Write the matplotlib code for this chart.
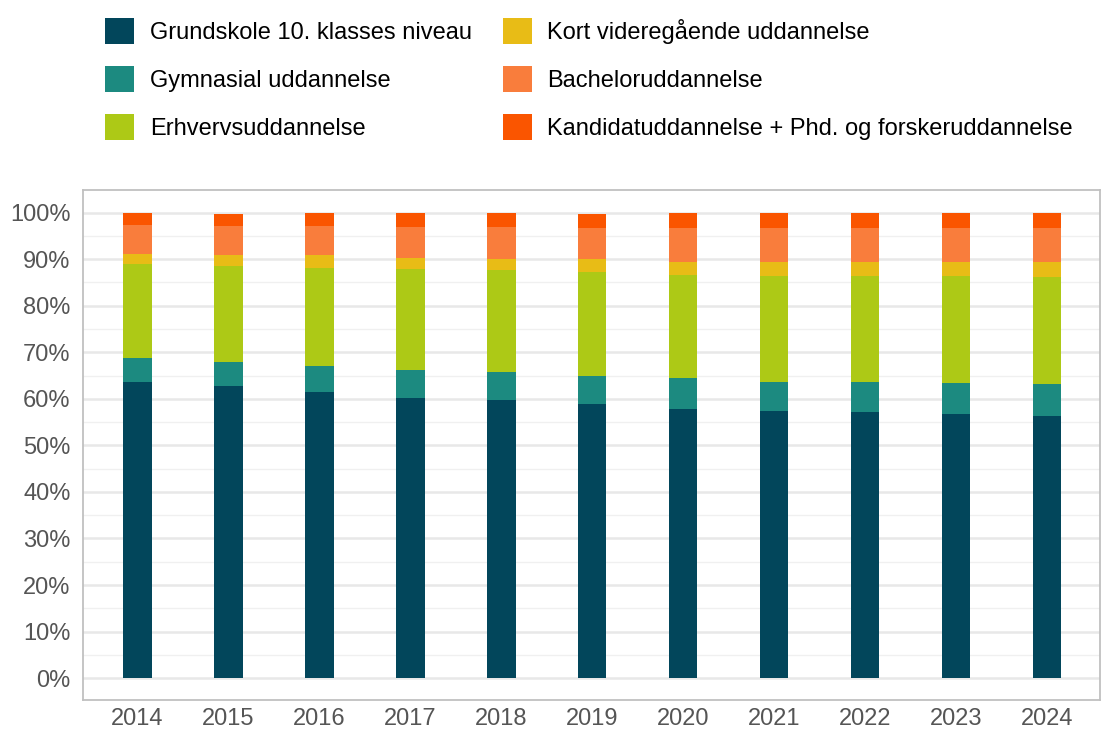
import matplotlib
matplotlib.use("Agg")
import matplotlib.pyplot as plt
from matplotlib.patches import Patch
from matplotlib.ticker import MultipleLocator, FuncFormatter
import numpy as np

plt.rcParams['font.family'] = ['Liberation Sans', 'DejaVu Sans']

years = ["2014", "2015", "2016", "2017", "2018", "2019", "2020", "2021", "2022", "2023", "2024"]
labels = [
    "Grundskole 10. klasses niveau",
    "Gymnasial uddannelse",
    "Erhvervsuddannelse",
    "Kort videregående uddannelse",
    "Bacheloruddannelse",
    "Kandidatuddannelse + Phd. og forskeruddannelse",
]
colors = ["#02465b", "#1c8a80", "#adc916", "#e8bc16", "#f97d3c", "#fa5500"]

# shares in percent
grundskole = [63.6, 62.8, 61.5, 60.1, 59.7, 58.8, 57.9, 57.3, 57.1, 56.7, 56.3]
gymnasial = [5.1, 5.2, 5.5, 6.2, 6.0, 6.2, 6.5, 6.4, 6.6, 6.8, 6.8]
erhverv = [20.3, 20.6, 21.2, 21.5, 21.9, 22.2, 22.3, 22.6, 22.6, 22.8, 23.0]
kort = [2.2, 2.4, 2.6, 2.5, 2.5, 2.8, 2.8, 3.0, 3.0, 3.0, 3.2]
bachelor = [6.2, 6.2, 6.4, 6.7, 6.9, 6.8, 7.3, 7.5, 7.5, 7.5, 7.5]
kandidat = [2.6, 2.5, 2.8, 3.0, 3.0, 2.9, 3.2, 3.2, 3.2, 3.2, 3.2]
series = [grundskole, gymnasial, erhverv, kort, bachelor, kandidat]

fig = plt.figure(figsize=(11.01, 7.33), dpi=100)
ax = fig.add_axes([0.0754, 0.045, 0.9236, 0.696])

x = np.arange(len(years))
bottom = np.zeros(len(years))
for vals, col in zip(series, colors):
    ax.bar(x, vals, width=0.31, bottom=bottom, color=col, zorder=3)
    bottom += np.array(vals)

ax.set_xlim(-0.6, 10.58)
ax.set_ylim(-4.7, 104.9)
ax.set_xticks(x)
ax.set_xticklabels(years)
ax.yaxis.set_major_locator(MultipleLocator(10))
ax.yaxis.set_minor_locator(MultipleLocator(5))
ax.yaxis.set_major_formatter(FuncFormatter(lambda v, p: f"{v:.0f}%"))
ax.grid(axis='y', which='major', color='#e8e8e8', linewidth=1.8, zorder=0)
ax.grid(axis='y', which='minor', color='#f0f0f0', linewidth=1.0, zorder=0)
ax.tick_params(axis='both', which='both', length=0, labelsize=17, labelcolor='#555555')
ax.tick_params(axis='x', pad=6)
ax.tick_params(axis='y', pad=9)
for s in ax.spines.values():
    s.set_color('#c0c0c0')
    s.set_linewidth(1.3)

handles = [Patch(facecolor=c, edgecolor='none') for c in colors]
fig.legend(handles, labels, loc='upper left', bbox_to_anchor=(0.0816, 0.996),
           ncol=2, frameon=False, fontsize=17, handlelength=1.23, handleheight=1.31,
           handletextpad=0.66, labelspacing=0.93, columnspacing=1.3,
           borderaxespad=0.45, borderpad=0.2)

fig.savefig("out.png", dpi=100)
